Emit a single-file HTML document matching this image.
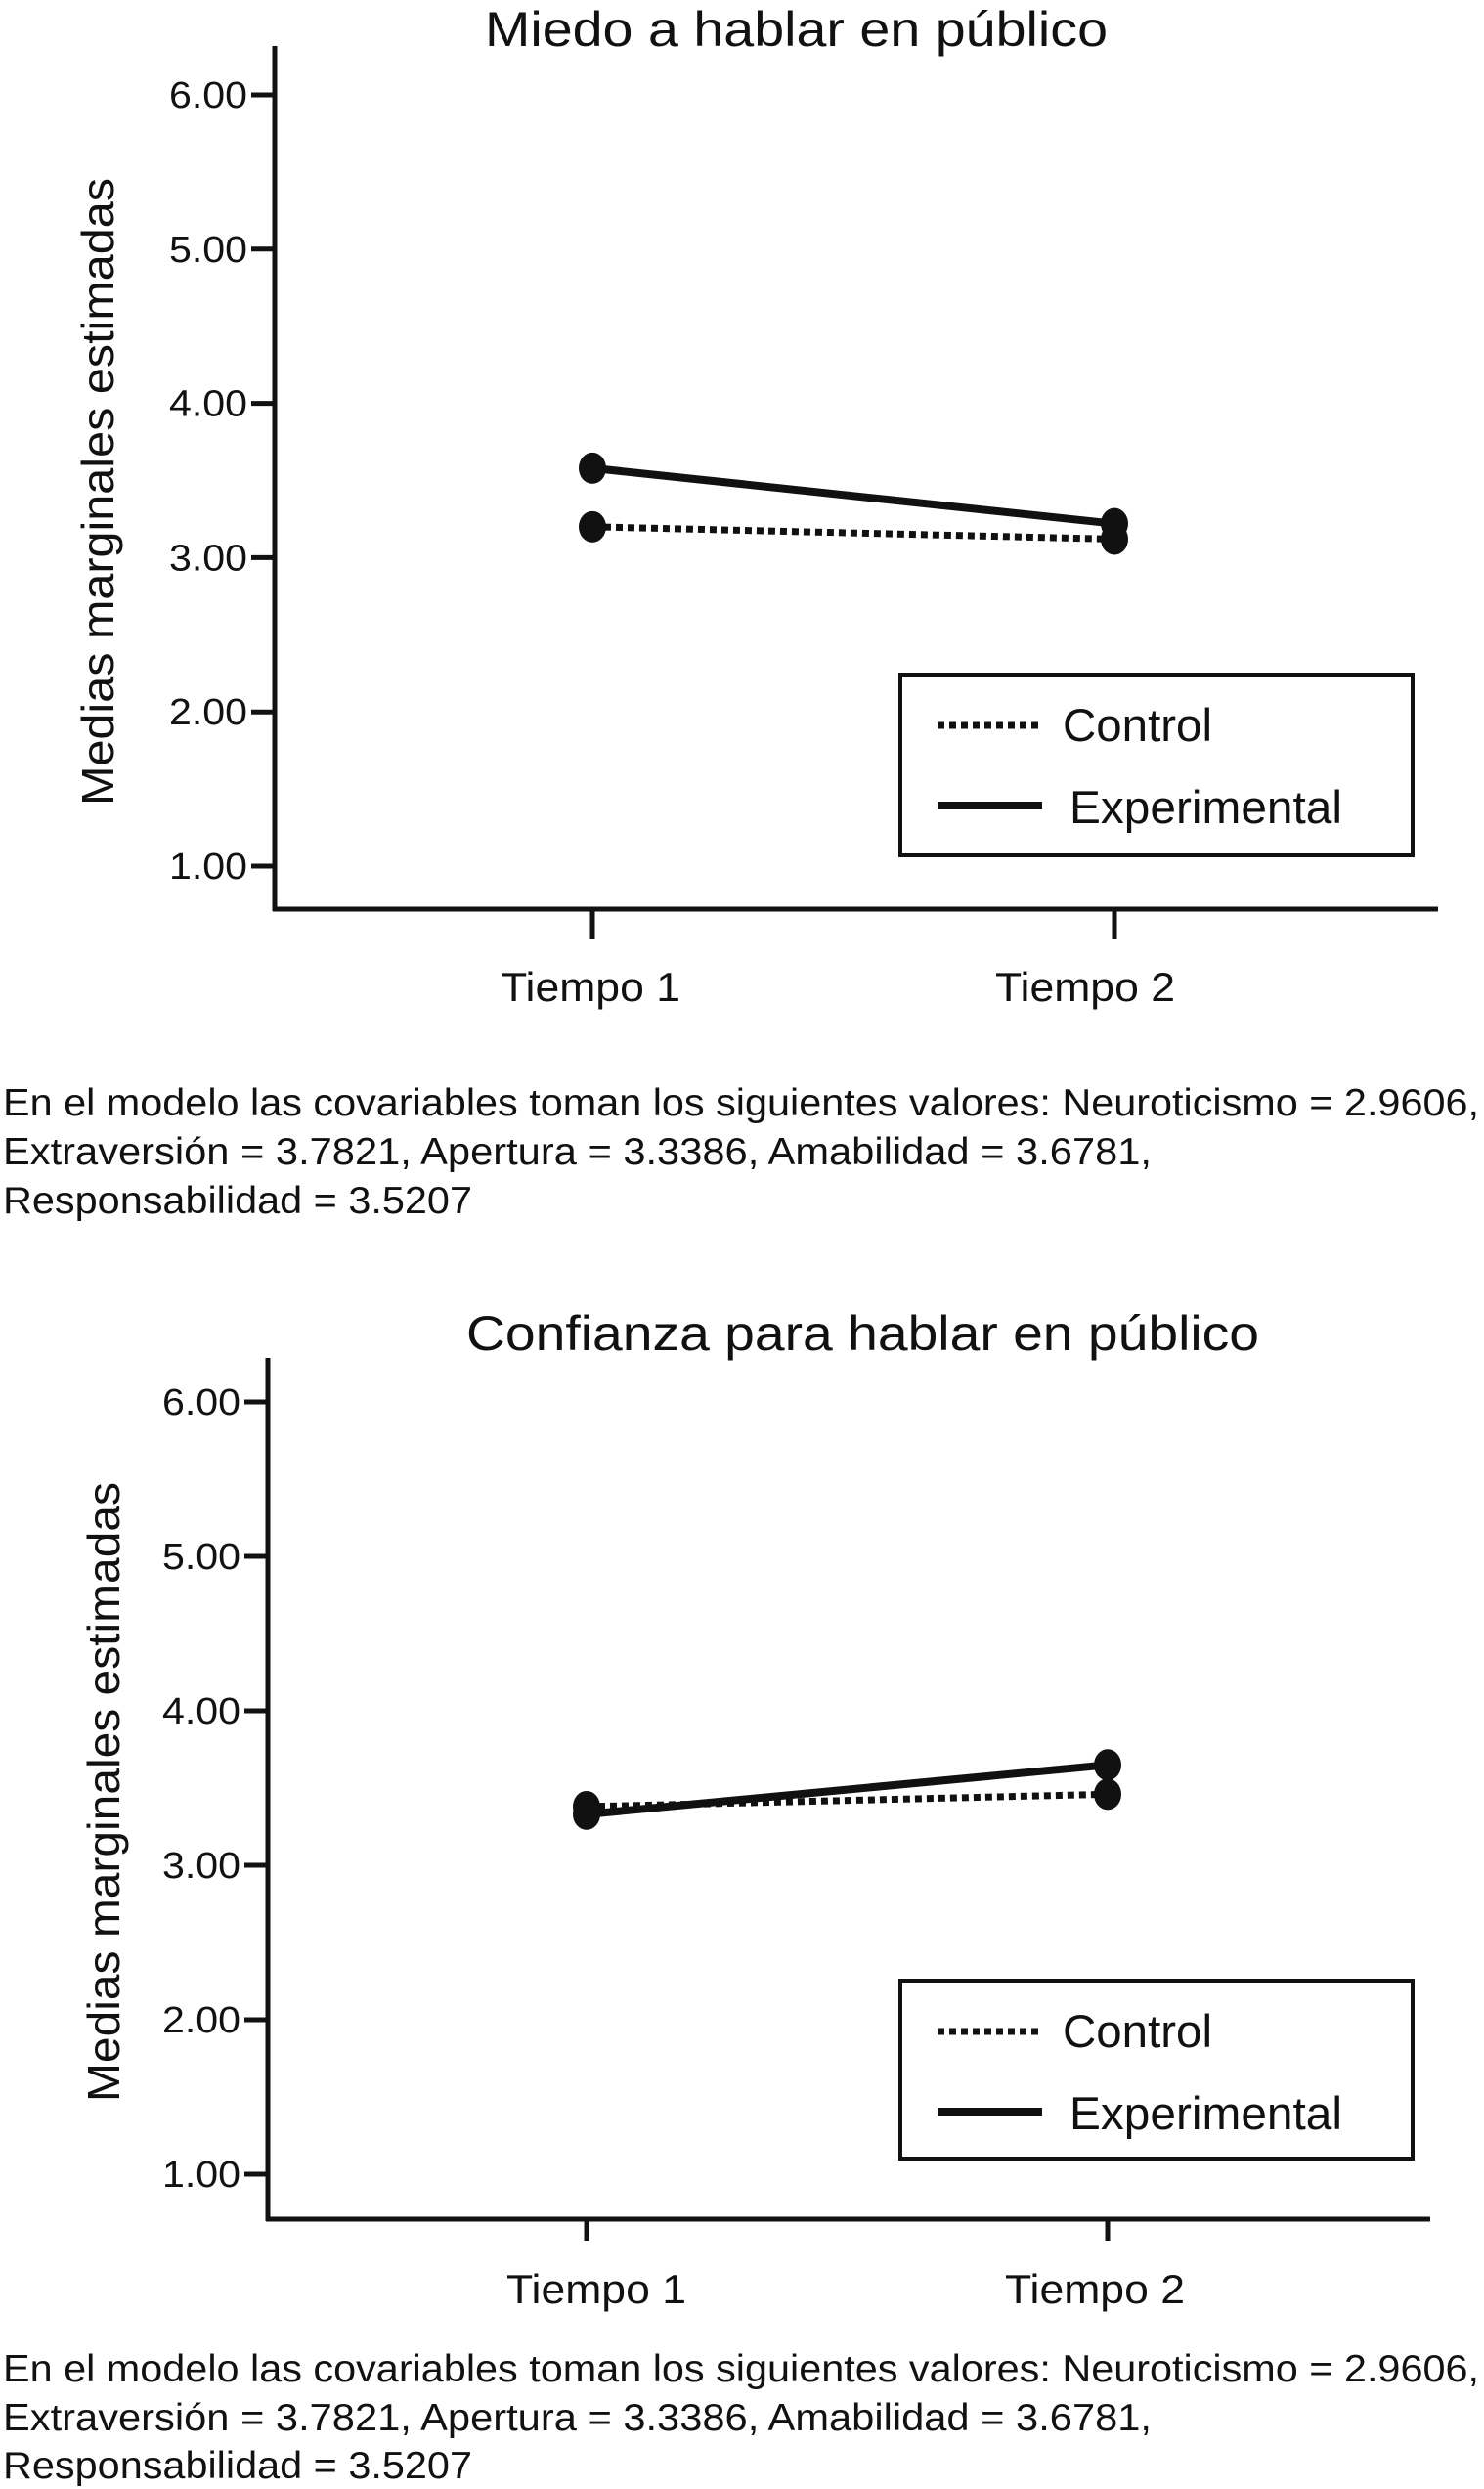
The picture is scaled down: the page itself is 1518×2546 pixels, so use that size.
<!DOCTYPE html>
<html><head><meta charset="utf-8"><style>
html,body{margin:0;padding:0;background:#fff;}
svg{display:block;font-family:"Liberation Sans",Arial,sans-serif;}
</style></head><body>
<svg id="fig" width="1518" height="2546" viewBox="0 0 1518 2546" xmlns="http://www.w3.org/2000/svg"></svg>
<script>
const categories = ["Tiempo 1", "Tiempo 2"];
const yTicks = [1, 2, 3, 4, 5, 6];
const yTickLabels = ["1.00", "2.00", "3.00", "4.00", "5.00", "6.00"];
const miedoControl = [3.20, 3.12];
const miedoExperimental = [3.58, 3.22];
const confianzaControl = [3.38, 3.46];
const confianzaExperimental = [3.33, 3.65];
const footLines = ["En el modelo las covariables toman los siguientes valores: Neuroticismo = 2.9606,",
  "Extraversión = 3.7821, Apertura = 3.3386, Amabilidad = 3.6781,",
  "Responsabilidad = 3.5207"];

const NS = "http://www.w3.org/2000/svg";
const svg = document.getElementById("fig");
function mk(tag, attrs, parent, text) {
  const e = document.createElementNS(NS, tag);
  for (const k in attrs) e.setAttribute(k, attrs[k]);
  if (text !== undefined) e.textContent = text;
  (parent || svg).appendChild(e);
  return e;
}

function chart(cfg) {
  const g = mk("g", {});
  
  
  const y = v => cfg.y1 - (v - 1) * (cfg.y1 - cfg.y6) / 5;
  const x = i => cfg.xc[i];
  const t = mk("text", {x: cfg.titleX, y: cfg.titleY, "font-size": 50, fill: "#111", textLength: cfg.titleW, lengthAdjust: "spacingAndGlyphs"}, g, cfg.title);
  
  
  const yl = mk("text", {x: 0, y: 0, "font-size": 46, fill: "#111", "text-anchor": "middle", textLength: cfg.ylW, lengthAdjust: "spacingAndGlyphs", transform: `translate(${cfg.ylX},${cfg.ylY}) rotate(-90)`}, g, "Medias marginales estimadas");
  
  
  const ya = mk("line", {x1: cfg.ax, y1: cfg.axTop, x2: cfg.ax, y2: cfg.axY + 2, stroke: "#111", "stroke-width": 5}, g);
  
  
  const xa = mk("line", {x1: cfg.ax - 2, y1: cfg.axY, x2: cfg.axR, y2: cfg.axY, stroke: "#111", "stroke-width": 5}, g);
  
  
  yTicks.forEach((v, i) => {
    const tk = mk("line", {x1: cfg.ax - 24, y1: y(v), x2: cfg.ax, y2: y(v), stroke: "#111", "stroke-width": 5}, g);
    
    
    const tl = mk("text", {x: cfg.ax - 28 - 80, y: y(v) + 13, "font-size": 38, fill: "#111", textLength: 80, lengthAdjust: "spacingAndGlyphs"}, g, yTickLabels[i]);
    
    
  });
  categories.forEach((c, i) => {
    const tk = mk("line", {x1: x(i), y1: cfg.axY, x2: x(i), y2: cfg.axY + cfg.tickLen, stroke: "#111", "stroke-width": 5}, g);
    
    
    const tl = mk("text", {x: x(i) + cfg.labOff[i], y: cfg.catY, "font-size": 42, fill: "#111", "text-anchor": "middle", textLength: 184, lengthAdjust: "spacingAndGlyphs"}, g, c);
    
    
  });
  function series(vals, dashed, nm) {
    const pts = vals.map((v, i) => x(i) + "," + y(v)).join(" ");
    const l = mk("polyline", {points: pts, fill: "none", stroke: "#111", "stroke-width": dashed ? 7 : 8, "stroke-dasharray": dashed ? "7,5" : "none"}, g);
    
    
    vals.forEach((v, i) => {
      const m = mk("ellipse", {cx: x(i), cy: y(v), rx: 14, ry: 16, fill: "#111"}, g);
      
      
    });
  }
  series(cfg.control, true, 'control');
  series(cfg.exp, false, 'experimental');
  const lg = mk("g", {}, g);
  
  
  const L = cfg.leg;
  mk("rect", {x: L.x, y: L.y, width: L.w, height: L.h, fill: "none", stroke: "#111", "stroke-width": 4}, lg);
  const l1 = mk("line", {x1: L.x + 38, y1: L.y + 52, x2: L.x + 145, y2: L.y + 52, stroke: "#111", "stroke-width": 7, "stroke-dasharray": "7,5"}, lg);
  
  
  const t1 = mk("text", {x: L.x + 166, y: L.y + 68, "font-size": 47, fill: "#111", textLength: 153, lengthAdjust: "spacingAndGlyphs"}, lg, "Control");
  
  
  const l2 = mk("line", {x1: L.x + 38, y1: L.y + 134, x2: L.x + 145, y2: L.y + 134, stroke: "#111", "stroke-width": 8}, lg);
  
  
  const t2 = mk("text", {x: L.x + 173, y: L.y + 152, "font-size": 47, fill: "#111", textLength: 279, lengthAdjust: "spacingAndGlyphs"}, lg, "Experimental");
  
  
  cfg.foot.forEach((fy, i) => {
    const f = mk("text", {x: 3, y: fy, "font-size": 39, fill: "#111", textLength: [1510, 1175, 480][i], lengthAdjust: "spacingAndGlyphs"}, g, footLines[i]);
    
    
  });
}

chart({name: "chart-miedo", title: "Miedo a hablar en público", titleX: 496, titleY: 47, titleW: 637,
  ylX: 116, ylY: 503, ylW: 642,
  ax: 281, axTop: 47, axY: 930, axR: 1471, y1: 886, y6: 97, xc: [606, 1140], labOff: [-2, -30], tickLen: 30, catY: 1024,
  control: miedoControl, exp: miedoExperimental,
  leg: {x: 921, y: 690, w: 524, h: 185}, foot: [1141, 1191, 1241]});

chart({name: "chart-confianza", title: "Confianza para hablar en público", titleX: 477, titleY: 1381, titleW: 811,
  ylX: 122, ylY: 1833, ylW: 634,
  ax: 274, axTop: 1389, axY: 2270, axR: 1463, y1: 2224, y6: 1434, xc: [600, 1133], labOff: [10, -13], tickLen: 22, catY: 2356,
  control: confianzaControl, exp: confianzaExperimental,
  leg: {x: 921, y: 2026, w: 524, h: 182}, foot: [2436, 2486, 2535]});
</script>
</body></html>
